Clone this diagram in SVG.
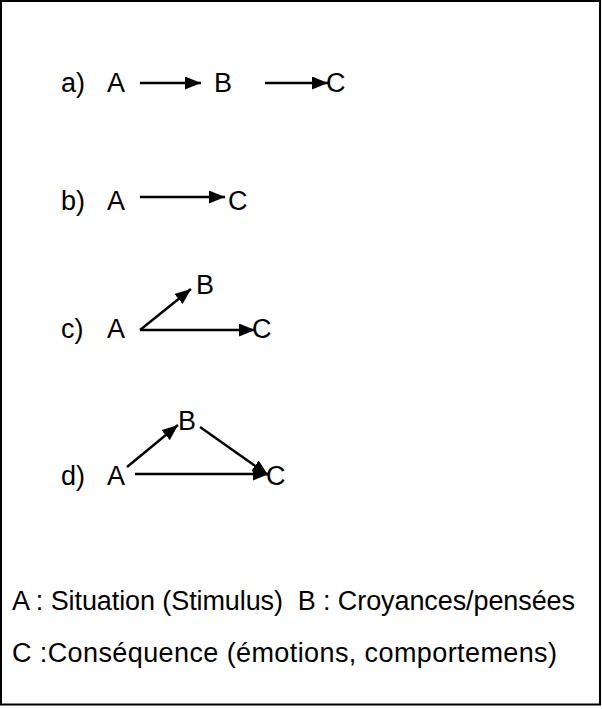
<svg xmlns="http://www.w3.org/2000/svg" width="602" height="709" viewBox="0 0 602 709">
<style>
text{font-family:"Liberation Sans",Arial,sans-serif;font-size:27px;fill:#000}
.ln{stroke:#000;stroke-width:2.4;fill:none}
</style>
<defs>
<marker id="ah" viewBox="0 0 16 13" refX="16" refY="6.5" markerWidth="16" markerHeight="13" markerUnits="userSpaceOnUse" orient="auto">
<path d="M0,0 L16,6.5 L0,13 z" fill="#000"/>
</marker>
</defs>
<rect x="1" y="1" width="599" height="703.5" fill="#fff" stroke="#000" stroke-width="2"/>
<g id="row-a">
<text x="61" y="92">a)</text>
<g id="a-A"><text x="107" y="92">A</text></g>
<g id="a-B"><text x="214" y="92">B</text></g>
<g id="a-C"><text x="326" y="92">C</text></g>
</g>
<g id="row-b">
<text x="61" y="210">b)</text>
<g id="b-A"><text x="107" y="210">A</text></g>
<g id="b-C"><text x="228" y="210">C</text></g>
</g>
<g id="row-c">
<text x="61" y="338">c)</text>
<g id="c-A"><text x="107" y="338">A</text></g>
<g id="c-B"><text x="196" y="294">B</text></g>
<g id="c-C"><text x="252" y="338">C</text></g>
</g>
<g id="row-d">
<text x="61" y="485">d)</text>
<g id="d-A"><text x="107" y="485">A</text></g>
<g id="d-B"><text x="178" y="430">B</text></g>
<g id="d-C"><text x="266" y="485">C</text></g>
</g>
<g id="legend">
<text x="12" y="610" xml:space="preserve" textLength="563" lengthAdjust="spacing">A : Situation (Stimulus)  B : Croyances/pensées</text>
<text x="12" y="662" textLength="545" lengthAdjust="spacing">C :Conséquence (émotions, comportemens)</text>
</g>
<g id="connectors">
<line class="ln" x1="140" y1="83" x2="201" y2="83" marker-end="url(#ah)"/>
<line class="ln" x1="265" y1="83" x2="328" y2="83" marker-end="url(#ah)"/>
<line class="ln" x1="140" y1="197" x2="225" y2="197" marker-end="url(#ah)"/>
<line class="ln" x1="140" y1="330" x2="191" y2="289" marker-end="url(#ah)"/>
<line class="ln" x1="140" y1="330" x2="255" y2="330" marker-end="url(#ah)"/>
<line class="ln" x1="127" y1="467" x2="178" y2="425" marker-end="url(#ah)"/>
<line class="ln" x1="200" y1="427" x2="268" y2="475" marker-end="url(#ah)"/>
<line class="ln" x1="135" y1="474" x2="269" y2="474" marker-end="url(#ah)"/>
</g>
</svg>
